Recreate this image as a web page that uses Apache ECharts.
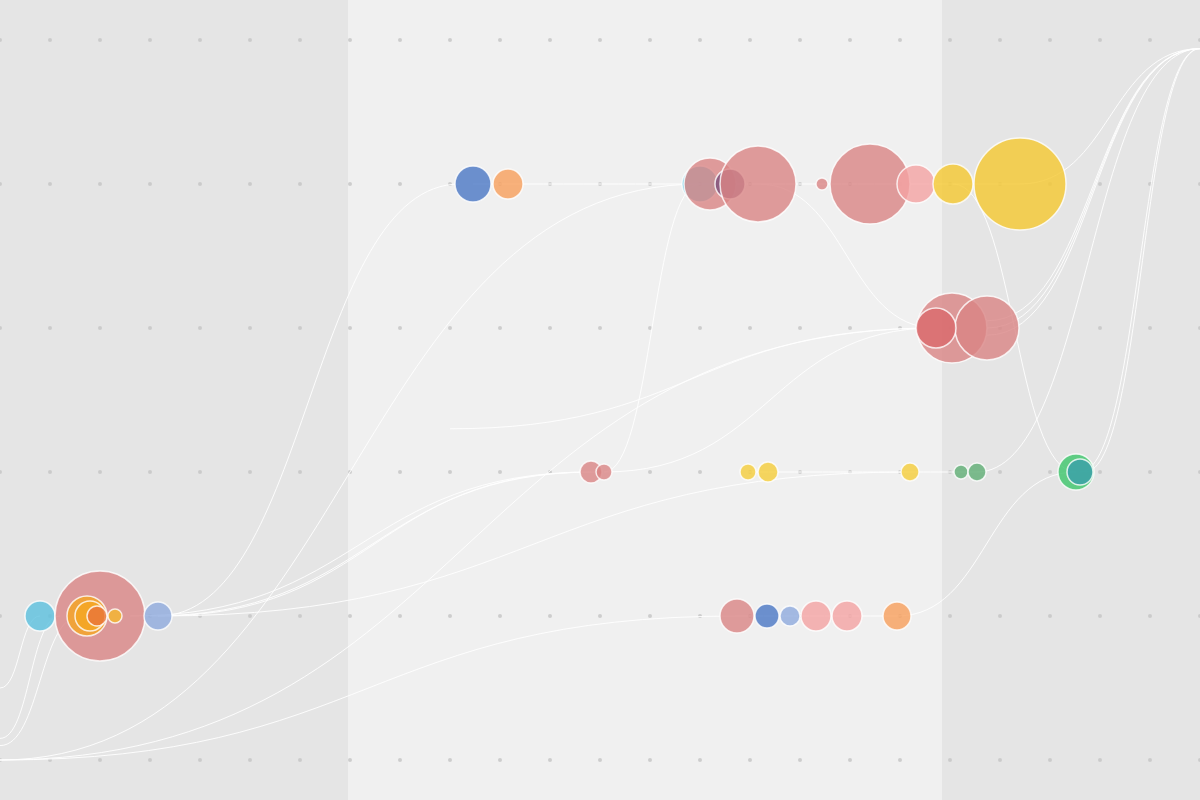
<!DOCTYPE html>
<html style="height:100%;width:100%;">
<head>
  <meta charset="utf-8">
  <script src="https://cdn.jsdelivr.net/npm/echarts@6/dist/echarts.min.js"></script>
</head>
<body style="margin:0px;height:100%;width:100%;">
  <div id="main" style="width:1200px;height:800px"></div>
  <script type="text/javascript">
    var myChart = echarts.init(document.getElementById("main"));

    // grid dots: x every 1 unit (50px), rows 0..5
    var xTicks = [0,1,2,3,4,5,6,7,8,9,10,11,12,13,14,15,16,17,18,19,20,21,22,23,24];
    var yTicks = [0,1,2,3,4,5];
    // background bands [from, to, colour]
    var bands = [[0, 6.96, '#e5e5e5'], [6.96, 18.84, '#f0f0f0'], [18.84, 24, '#e5e5e5']];

    // bubbles: [x, row, diameter, colour]
    var bubbles = [
      [0.8, 1, 30, '#5bc0de'], [2.0, 1, 90, '#d98585'], [1.74, 1, 40, '#f5a623'], [1.8, 1, 30, '#f5a623'],
      [1.94, 1, 20, '#e8743b'], [2.3, 1, 14, '#f5b82e'], [3.16, 1, 28, '#8eaadd'],
      [14.74, 1, 34, '#d98585'], [15.34, 1, 24, '#4a77c4'], [15.8, 1, 20, '#8eaadd'], [16.32, 1, 30, '#f4a2a2'],
      [16.94, 1, 30, '#f4a2a2'], [17.94, 1, 28, '#f89f5b'],
      [11.82, 2, 22, '#d98585'], [12.08, 2, 16, '#d98585'], [14.96, 2, 16, '#f5cd3a'], [15.36, 2, 20, '#f5cd3a'],
      [18.2, 2, 18, '#f5cd3a'], [19.22, 2, 14, '#5fae74'], [19.54, 2, 18, '#5fae74'],
      [21.52, 2, 36, '#3cc56a'], [21.6, 2, 26, '#3a9faa'],
      [19.04, 3, 70, '#d98585'], [19.74, 3, 64, '#d98585'], [18.72, 3, 40, '#d9696b'],
      [9.46, 4, 36, '#4a77c4'], [10.16, 4, 30, '#f89f5b'], [14.0, 4, 36, '#5bc0de'], [14.2, 4, 52, '#d98585'],
      [14.6, 4, 30, '#7a4f7a'], [15.16, 4, 76, '#d98585'], [16.44, 4, 12, '#d98585'], [17.4, 4, 80, '#d98585'],
      [18.32, 4, 38, '#f4a2a2'], [19.06, 4, 40, '#f5c830'], [20.4, 4, 92, '#f5c830']
    ];

    // links: [x1, y1, x2, y2]
    var links = [
      [0, 0.5, 0.8, 1], [0, 0.15, 1.2, 1], [0, 0.1, 1.6, 1],
      [3.16, 1, 9.2, 4], [0, 0, 14.0, 4], [0, 0, 14.74, 1], [0, 0, 18.72, 3],
      [3.16, 1, 11.82, 2], [2.6, 1, 11.82, 2], [3.0, 1, 11.9, 2], [3.16, 1, 18.2, 2],
      [12.08, 2, 18.72, 3], [9.0, 2.3, 18.72, 3], [12.08, 2, 14.0, 4],
      [15.16, 4, 18.72, 3], [19.06, 4, 21.52, 2], [17.94, 1, 21.52, 2],
      [19.54, 2, 24, 4.94], [19.74, 3, 24, 4.94], [19.74, 3.05, 24, 4.94], [19.74, 2.95, 24, 4.94],
      [20.4, 4, 24, 4.94], [21.6, 2, 24, 4.94], [21.7, 2, 24, 4.94],
      [9.46, 4, 20.4, 4], [14.96, 2, 19.54, 2], [14.74, 1, 17.94, 1]
    ];

    var dots = [];
    xTicks.forEach(function (x) { yTicks.forEach(function (y) { dots.push([x, y]); }); });

    var option = {
      animation: false,
      grid: { left: 0, right: 0, top: 40, bottom: 40 },
      xAxis: { type: 'value', min: 0, max: 24, show: false },
      yAxis: { type: 'value', min: 0, max: 5, show: false },
      graphic: bands.map(function (b) {
        return { type: 'rect', z: -10, shape: { x: b[0] * 50, y: 0, width: (b[1] - b[0]) * 50, height: 800 }, style: { fill: b[2] } };
      }),
      series: [
        {
          type: 'scatter', data: dots, symbolSize: 4, silent: true,
          itemStyle: { color: '#c4c4c4' }, z: 1
        },
        {
          type: 'custom', data: links, silent: true, z: 2,
          renderItem: function (params, api) {
            var p1 = api.coord([api.value(0), api.value(1)]);
            var p2 = api.coord([api.value(2), api.value(3)]);
            var mx = (p1[0] + p2[0]) / 2;
            return {
              type: 'bezierCurve',
              shape: { x1: p1[0], y1: p1[1], x2: p2[0], y2: p2[1], cpx1: mx, cpy1: p1[1], cpx2: mx, cpy2: p2[1] },
              style: { fill: null, stroke: '#ffffff', lineWidth: 1, opacity: 0.9 }
            };
          }
        },
        {
          type: 'scatter', z: 3,
          data: bubbles.map(function (b) {
            return { value: [b[0], b[1]], symbolSize: b[2], itemStyle: { color: b[3] } };
          }),
          itemStyle: { opacity: 0.8, borderColor: '#ffffff', borderWidth: 1.5 }
        }
      ]
    };
    myChart.setOption(option);
  </script>
</body>
</html>
